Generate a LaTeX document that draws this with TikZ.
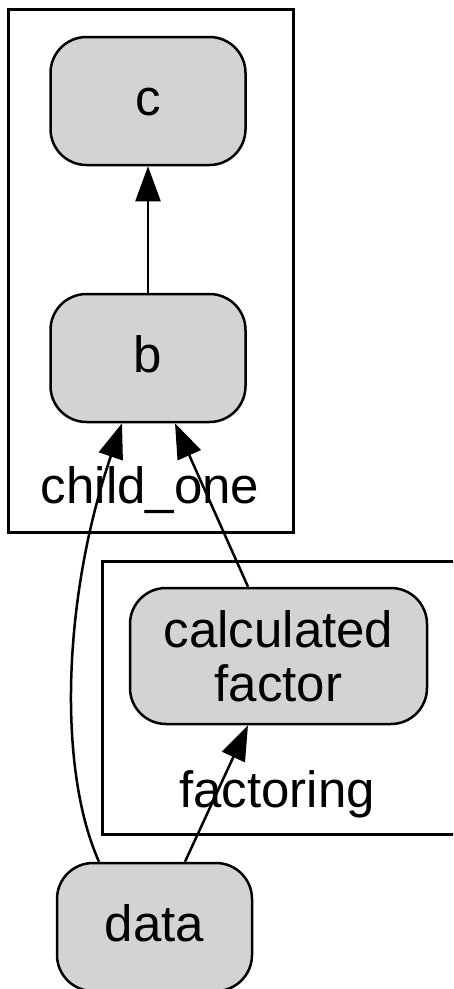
\documentclass[tikz,border=0pt]{standalone}
\usepackage{fontspec}
\setmainfont{Liberation Sans}
\usetikzlibrary{arrows.meta}
\definecolor{nodefill}{HTML}{D3D3D3}
\tikzset{
  proc/.style={draw=black, line width=2.5pt, fill=nodefill, rounded corners=36pt,
    inner sep=0pt, minimum width=195pt, font=\fontsize{51}{55}\selectfont},
  single/.style={proc, minimum height=128pt, text height=29pt, text depth=0pt},
  cluster/.style={draw=black, line width=3pt},
  clusterlabel/.style={anchor=base, inner sep=0pt, font=\fontsize{51}{55}\selectfont},
  edge/.style={draw=black, line width=2.5pt, -{Triangle[length=35pt, width=25pt]}}
}
\begin{document}
\begin{tikzpicture}[x=1pt, y=-1pt]
  \clip (0,0) rectangle (453,989);
  \fill[white] (0,0) rectangle (453,989);

  % clusters
  \draw[cluster] (8,9) rectangle (293,532);
  \node[clusterlabel] (lblchild) at (150,503) {child\_one};
  \draw[cluster] (102,561) rectangle (470,834);
  \node[clusterlabel] (lblfact) at (277,807) {factoring};

  % nodes
  \node[single] (c) at (148,101) {c};
  \node[single] (b) at (148,358) {b};
  \node[proc, minimum width=297pt, minimum height=136pt, align=center,
        text depth=0pt] (calc) at (278.5,656) {calculated\\[-1pt]factor};
  \node[single] (data) at (154.5,927) {data};

  % edges
  \draw[edge] (b.north) -- (c.south);
  \draw[edge] ([xshift=-55.5pt]data.north)
      .. controls (58,770) and (62,600) .. ([xshift=-26pt]b.south);
  \draw[edge] ([xshift=-30.5pt]calc.north) -- ([xshift=27pt]b.south);
  \draw[edge] ([xshift=30.5pt]data.north) -- ([xshift=-30.5pt]calc.south);
\end{tikzpicture}
\end{document}
